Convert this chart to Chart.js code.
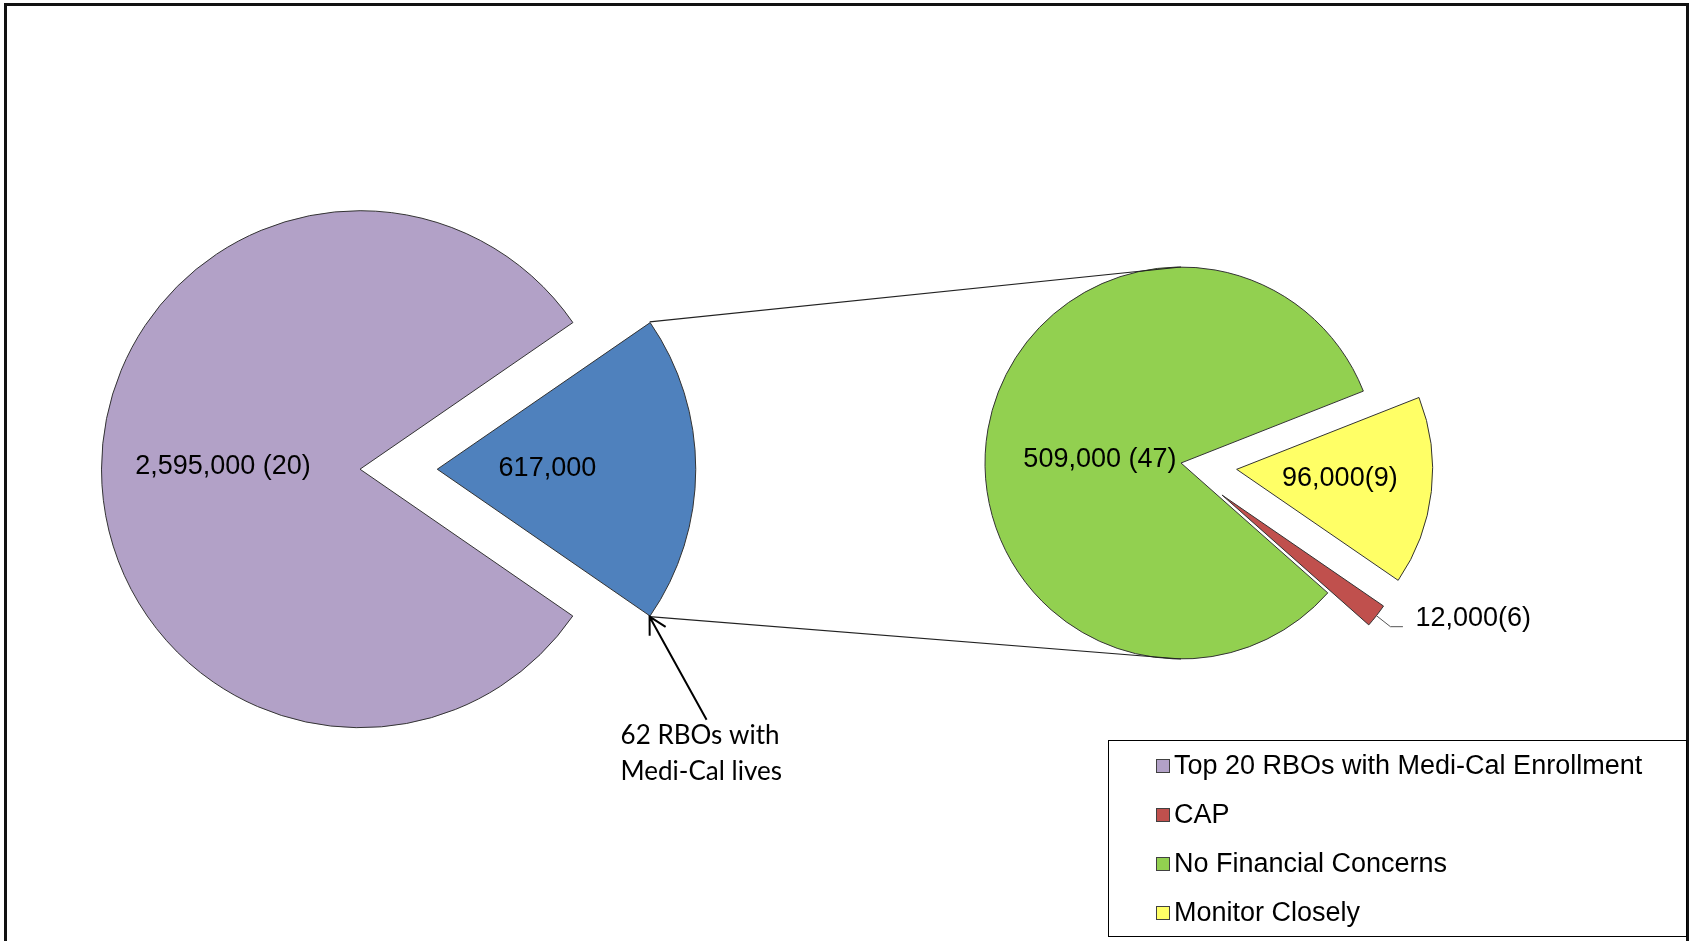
<!DOCTYPE html>
<html>
<head>
<meta charset="utf-8">
<script src="https://cdn.jsdelivr.net/npm/chart.js@4.4.1/dist/chart.umd.min.js"></script>
<style>
html, body { margin: 0; padding: 0; background: #fff; width: 1689px; height: 941px; overflow: hidden; }
.layer { position: absolute; left: 0; top: 0; width: 1689px; height: 941px; }
#frame { position: absolute; left: 4px; top: 3px; width: 1685px; height: 1000px; border: 3px solid #111; box-sizing: border-box; }
</style>
</head>
<body>
<div id="frame"></div>
<div class="layer"><canvas id="leftPie" width="1689" height="941"></canvas></div>
<div class="layer"><canvas id="rightPie" width="1689" height="941"></canvas></div>
<script>
// ---- data ----
const mainCategories = ['Top 20 RBOs with Medi-Cal Enrollment', '62 RBOs with Medi-Cal lives'];
const mainValues = [2595000, 617000];
const mainLabels = ['2,595,000 (20)', '617,000'];

const detailCategories = ['CAP', 'No Financial Concerns', 'Monitor Closely'];
const detailValues = [12000, 509000, 96000];
const detailLabels = ['12,000(6)', '509,000 (47)', '96,000(9)'];

const legendLabels = ['Top 20 RBOs with Medi-Cal Enrollment', 'CAP', 'No Financial Concerns', 'Monitor Closely'];
const annotationLines = ['62 RBOs with', 'Medi-Cal lives'];

// ---- styles / layout ----
const mainColors = ['#B2A1C7', '#4F81BD'];
const detailColors = ['#C0504D', '#92D050', '#FFFF66'];
const legendColors = [mainColors[0], detailColors[0], detailColors[1], detailColors[2]];
const mainOffsets = [0, 309];
const detailOffsets = [208, 0, 224];
const W = 1689, H = 941;
const LEFT = { cx: 360, cy: 469.2, r: 258.5, rotation: 124.6 };
const RIGHT = { cx: 1181, cy: 463, r: 196, rotation: 124.5 };
const FONT = '"Liberation Sans", Arial, sans-serif';
const FONT2 = 'Lato, "Open Sans", sans-serif';

function arcPoint(arc, dist, angle) {
  const m = (arc.startAngle + arc.endAngle) / 2;
  const a = angle === undefined ? m : angle;
  const off = (arc.options.offset || 0) / 4;
  return { x: arc.x + Math.cos(m) * off + Math.cos(a) * dist,
           y: arc.y + Math.sin(m) * off + Math.sin(a) * dist };
}

// keep exploded slices at the same radius and angular width as the rest of the pie
const radiusFix = {
  id: 'radiusFix',
  beforeDatasetsDraw(chart) {
    chart.getSortedVisibleDatasetMetas().forEach(meta => {
      const base = meta.controller.outerRadius;
      meta.data.forEach(arc => {
        const off = (arc.options.offset || 0) / 4;
        const fix = 1 - Math.sin(Math.min(Math.PI, arc.circumference));
        const ro = off * fix;
        arc.outerRadius = base - ro;
        const mid = (arc.startAngle + arc.endAngle) / 2;
        const widen = ro / (2 * Math.PI * base);
        arc.startAngle = mid - arc.circumference / 2 - widen;
        arc.endAngle = mid + arc.circumference / 2 + widen;
      });
    });
  }
};

function sliceLabels(texts, fracs, tweaks) {
  return {
    id: 'sliceLabels',
    afterDatasetsDraw(chart) {
      const ctx = chart.ctx;
      const meta = chart.getDatasetMeta(0);
      const R = meta.controller.outerRadius;
      ctx.save();
      ctx.font = '27px ' + FONT;
      ctx.fillStyle = '#000';
      ctx.textAlign = 'center';
      ctx.textBaseline = 'middle';
      meta.data.forEach((arc, i) => {
        if (fracs[i] == null) return;
        const mid = (arc.startAngle + arc.endAngle) / 2;
        const off = (arc.options.offset || 0) / 4;
        const d = fracs[i] * R;
        const x = arc.x + Math.cos(mid) * (off + d);
        const y = arc.y + Math.sin(mid) * (off + d);
        ctx.fillText(texts[i], x + tweaks[i][0], y + tweaks[i][1]);
      });
      ctx.restore();
    }
  };
}

const leftChart = new Chart(document.getElementById('leftPie'), {
  type: 'pie',
  data: {
    labels: mainCategories,
    datasets: [{ data: mainValues, backgroundColor: mainColors, borderColor: '#333', borderWidth: 1,
                 offset: mainOffsets, clip: false }]
  },
  options: {
    responsive: false, animation: false, events: [],
    radius: LEFT.r, rotation: LEFT.rotation,
    layout: { padding: { left: 0, top: 0, right: W - 2 * LEFT.cx, bottom: H - 2 * LEFT.cy } },
    plugins: { legend: { display: false }, tooltip: { enabled: false } }
  },
  plugins: [radiusFix, sliceLabels(mainLabels, [0.53, 0.43], [[0, -3], [-1, -1]])]
});

const overlay = {
  id: 'overlay',
  afterDraw(chart) {
    const ctx = chart.ctx;
    const lmeta = leftChart.getDatasetMeta(0);
    const blue = lmeta.data[1];
    const LR = lmeta.controller.outerRadius;
    const rmeta = chart.getDatasetMeta(0);
    const RR = rmeta.controller.outerRadius;
    const green = rmeta.data[1];
    const red = rmeta.data[0];
    const top = arcPoint(blue, LR, blue.startAngle);
    const bot = arcPoint(blue, LR, blue.endAngle);

    ctx.save();
    // connector lines
    ctx.strokeStyle = '#222';
    ctx.lineWidth = 1.2;
    ctx.beginPath();
    ctx.moveTo(top.x, top.y); ctx.lineTo(green.x, green.y - RR);
    ctx.moveTo(bot.x, bot.y); ctx.lineTo(green.x, green.y + RR);
    ctx.stroke();

    // arrow to the bottom corner of the blue slice
    const tail = { x: bot.x + 57, y: bot.y + 103 };
    const ang = Math.atan2(bot.y - tail.y, bot.x - tail.x);
    ctx.strokeStyle = '#000';
    ctx.lineWidth = 2;
    ctx.beginPath();
    ctx.moveTo(tail.x, tail.y); ctx.lineTo(bot.x, bot.y);
    const hl = 19, ha = 0.5;
    ctx.moveTo(bot.x - hl * Math.cos(ang - ha), bot.y - hl * Math.sin(ang - ha));
    ctx.lineTo(bot.x, bot.y);
    ctx.lineTo(bot.x - hl * Math.cos(ang + ha), bot.y - hl * Math.sin(ang + ha));
    ctx.stroke();

    ctx.font = '26px ' + FONT2;
    ctx.fillStyle = '#000';
    ctx.textAlign = 'left';
    ctx.textBaseline = 'middle';
    annotationLines.forEach((t, i) => ctx.fillText(t, bot.x - 29, bot.y + 119 + i * 36));

    // CAP leader line + label
    const tip = arcPoint(red, RR);
    const k = { x: tip.x + 14, y: tip.y + 11 };
    ctx.strokeStyle = '#555';
    ctx.lineWidth = 1;
    ctx.beginPath();
    ctx.moveTo(tip.x, tip.y); ctx.lineTo(k.x, k.y); ctx.lineTo(k.x + 12.5, k.y);
    ctx.stroke();
    ctx.font = '27px ' + FONT;
    ctx.fillStyle = '#000';
    ctx.fillText(detailLabels[0], k.x + 25, k.y - 8);

    // legend
    ctx.strokeStyle = '#000';
    ctx.lineWidth = 1;
    ctx.strokeRect(1108.5, 740.5, 578, 196);
    legendLabels.forEach((t, i) => {
      const y = 766 + i * 49;
      ctx.fillStyle = legendColors[i];
      ctx.fillRect(1156.5, y - 6.5, 13, 13);
      ctx.strokeStyle = '#404040';
      ctx.strokeRect(1156.5, y - 6.5, 13, 13);
      ctx.fillStyle = '#000';
      ctx.fillText(t, 1174, y + 1);
    });
    ctx.restore();
  }
};

const rightChart = new Chart(document.getElementById('rightPie'), {
  type: 'pie',
  data: {
    labels: detailCategories,
    datasets: [{ data: detailValues, backgroundColor: detailColors, borderColor: '#333', borderWidth: 1,
                 offset: detailOffsets, clip: false }]
  },
  options: {
    responsive: false, animation: false, events: [],
    radius: RIGHT.r, rotation: RIGHT.rotation,
    layout: { padding: { left: 2 * RIGHT.cx - W, top: 0, right: 0, bottom: H - 2 * RIGHT.cy } },
    plugins: { legend: { display: false }, tooltip: { enabled: false } }
  },
  plugins: [radiusFix, sliceLabels(detailLabels, [null, 0.42, 0.53], [[0, 0], [0, 11], [0, -3]]), overlay]
});
</script>
</body>
</html>
